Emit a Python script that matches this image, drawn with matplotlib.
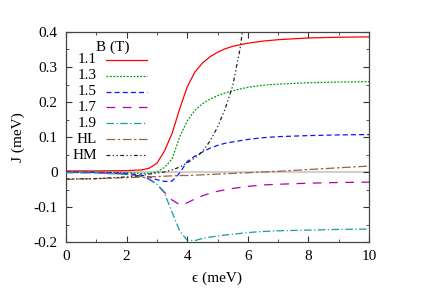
import numpy as np
import matplotlib
matplotlib.use("Agg")
import matplotlib.pyplot as plt
from matplotlib.ticker import MultipleLocator

plt.rcParams['font.family'] = ['Liberation Serif', 'STIXGeneral', 'DejaVu Serif']
plt.rcParams['mathtext.fontset'] = 'stix'

# energy grid (meV)
eps = [0, 1, 2, 2.5, 2.75, 3, 3.25, 3.5, 3.75, 4, 4.25, 4.5, 4.75, 5,
       5.25, 5.5, 6, 6.5, 7, 8, 9, 10]

# exchange J (meV) for each field B (T)
j_11 = [0.003, 0.003, 0.004, 0.006, 0.011, 0.025, 0.06, 0.11, 0.18, 0.243, 0.285,
        0.311, 0.329, 0.342, 0.352, 0.359, 0.368, 0.374, 0.378, 0.383, 0.385, 0.386]
j_13 = [0.0, 0.0, -0.002, -0.004, -0.004, 0.0, 0.013, 0.037, 0.1, 0.146, 0.176,
        0.195, 0.208, 0.218, 0.226, 0.232, 0.242, 0.248, 0.251, 0.255, 0.257, 0.258]
j_15 = [0.0, -0.001, -0.004, -0.009, -0.014, -0.022, -0.027, -0.026, -0.003, 0.03, 0.045,
        0.057, 0.068, 0.076, 0.082, 0.086, 0.093, 0.098, 0.101, 0.104, 0.106, 0.107]
j_17 = [-0.001, -0.002, -0.006, -0.012, -0.02, -0.035, -0.058, -0.08, -0.093, -0.088, -0.077,
        -0.068, -0.061, -0.055, -0.051, -0.047, -0.041, -0.037, -0.035, -0.032, -0.03, -0.029]
j_19 = [-0.002, -0.003, -0.007, -0.013, -0.022, -0.035, -0.06, -0.115, -0.168, -0.195, -0.196,
        -0.19, -0.186, -0.183, -0.18, -0.178, -0.173, -0.17, -0.168, -0.166, -0.164, -0.163]
j_hl = [-0.021, -0.019, -0.016, -0.015, -0.014, -0.013, -0.012, -0.011, -0.01, -0.01, -0.009,
        -0.008, -0.007, -0.006, -0.005, -0.004, -0.002, 0.0, 0.002, 0.007, 0.012, 0.017]
eps_hm = [0, 1, 2, 2.5, 2.75, 3, 3.25, 3.5, 3.75, 4, 4.25, 4.5, 4.75, 5, 5.25, 5.5, 5.75, 6]
j_hm = [-0.02, -0.019, -0.014, -0.01, -0.006, -0.003, 0.0, 0.006, 0.014, 0.026, 0.04,
        0.058, 0.088, 0.128, 0.18, 0.245, 0.355, 0.52]

labels = ['1.1', '1.3', '1.5', '1.7', '1.9', 'HL', 'HM']
colors = ['#ff0000', '#00a000', '#1010ff', '#b000b0', '#10a0a0', '#a0603a', '#202020']
dashes = [None, (1.5, 1.2), (4, 2.5), (7, 6), (6, 2, 1, 2), (7, 2, 2, 2), (3, 2, 1, 2, 1, 2)]

fig = plt.figure(figsize=(4.35, 3.05), dpi=100)
ax = fig.add_axes([66 / 435, 1 - 242 / 305, 303 / 435, 210 / 305])

ax.axhline(0, color='#d0d0d0', lw=1.5, zorder=1)

series = [(eps, j_11), (eps, j_13), (eps, j_15), (eps, j_17), (eps, j_19),
          (eps, j_hl), (eps_hm, j_hm)]

# hand-made gnuplot style key
ax.text(0.099, 0.929, 'B (T)', transform=ax.transAxes, fontsize=11,
        ha='left', va='center')
for i, ((xs, ys), lab, c, d) in enumerate(zip(series, labels, colors, dashes)):
    line, = ax.plot(xs, ys, color=c, lw=0.9, zorder=3)
    yk = 0.867 - i * 0.0755
    key, = ax.plot([0.132, 0.267], [yk, yk], color=c, lw=0.9, transform=ax.transAxes)
    if d is not None:
        line.set_dashes(d)
        key.set_dashes(d)
    ax.text(0.102, yk, lab, transform=ax.transAxes, fontsize=11,
            ha='right', va='center')

ax.set_xlim(0, 10)
ax.set_ylim(-0.2, 0.4)
ax.xaxis.set_major_locator(MultipleLocator(2))
ax.xaxis.set_minor_locator(MultipleLocator(1))
ax.set_yticks([-0.2, -0.1, 0, 0.1, 0.2, 0.3, 0.4])
ax.set_yticklabels(['-0.2', '-0.1', '0', '0.1', '0.2', '0.3', '0.4'])
ax.yaxis.set_minor_locator(MultipleLocator(0.05))
ax.tick_params(which='both', direction='in', top=True, right=True,
               labelsize=11, color='#333333')
ax.tick_params(which='major', length=4, width=0.8, pad=6)
ax.tick_params(which='minor', length=2, width=0.6)
for s in ax.spines.values():
    s.set_color('#444444')
    s.set_linewidth(0.9)

ax.set_xlabel('\u03f5 (meV)', fontsize=11, labelpad=6)
ax.set_ylabel('J (meV)', fontsize=11, labelpad=6)

fig.savefig('out.png', dpi=100)
